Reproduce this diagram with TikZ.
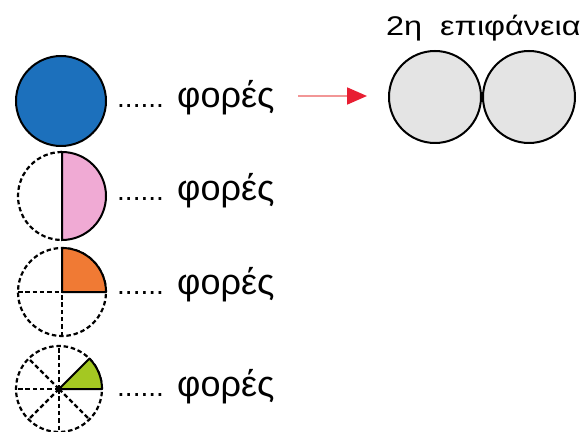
\documentclass[tikz,border=0pt]{standalone}
\usepackage{fontspec}
\setmainfont{Liberation Sans}
\newfontfamily\widefont[FakeStretch=1.2]{Liberation Sans}
\usetikzlibrary{arrows.meta}
\definecolor{cblue}{RGB}{28,112,188}
\definecolor{cpink}{RGB}{240,170,212}
\definecolor{corange}{RGB}{240,122,52}
\definecolor{cgreen}{RGB}{164,200,34}
\definecolor{cgray}{RGB}{228,228,228}
\definecolor{cpale}{RGB}{242,150,150}
\definecolor{cred}{RGB}{232,30,50}
\begin{document}
\begin{tikzpicture}[x=1pt,y=1pt,
  outl/.style={line width=2pt, black},
  dsh/.style={line width=2.2pt, black, dash pattern=on 4.5pt off 2.8pt},
  lbl/.style={font=\fontsize{36}{40}\selectfont, anchor=base west, inner sep=0pt},
  ttl/.style={font=\widefont\fontsize{27}{30}\selectfont, anchor=base west, inner sep=0pt},
  graycirc/.style={circle, draw, line width=2pt, fill=cgray, minimum size=92pt, inner sep=0pt}]
\useasboundingbox (0,0) rectangle (588,431);
\fill[white] (0,0) rectangle (588,431);
% row 1: full blue circle
\node[circle, draw, line width=2pt, fill=cblue, minimum size=90pt, inner sep=0pt] (c1) at (61,330) {};
% row 2: half
\coordinate (c2) at (62,235);
\fill[cpink] ([yshift=44pt]c2) arc[start angle=90,end angle=-90,radius=44pt] -- cycle;
\draw[dsh] ([yshift=44pt]c2) arc[start angle=90,end angle=270,radius=44pt];
\draw[outl] ([yshift=44pt]c2) arc[start angle=90,end angle=-90,radius=44pt] -- cycle;
% row 3: quarter
\coordinate (c3) at (62,139);
\draw[dsh] (c3) circle[radius=44pt];
\draw[dsh] ([xshift=-44pt]c3) -- (c3);
\draw[dsh] ([yshift=-44pt]c3) -- (c3);
\fill[corange] (c3) -- ++(44,0) arc[start angle=0,end angle=90,radius=44pt] -- cycle;
\draw[outl, line join=round] (c3) -- ++(44,0) arc[start angle=0,end angle=90,radius=44pt] -- cycle;
% row 4: eighth
\coordinate (c4) at (59,42);
\draw[dsh] (c4) circle[radius=43pt];
\foreach \a in {90,135,180,225,270,315} \draw[dsh] (c4) -- ++(\a:43pt);
\fill[cgreen] (c4) -- ++(43,0) arc[start angle=0,end angle=45,radius=43pt] -- cycle;
\draw[outl, line join=round] (c4) -- ++(43,0) arc[start angle=0,end angle=45,radius=43pt] -- cycle;
\fill[black] (c4) circle[radius=3.5pt];
% labels
\node[lbl] (t1) at (117,323) {{\fontsize{28}{30}\selectfont......} φορές};
\node[lbl] (t2) at (117,230) {{\fontsize{28}{30}\selectfont......} φορές};
\node[lbl] (t3) at (117,136) {{\fontsize{28}{30}\selectfont......} φορές};
\node[lbl] (t4) at (117,35) {{\fontsize{28}{30}\selectfont......} φορές};
% second surface
\node[ttl] (title) at (386,395) {2η\ \ επιφάνεια};
\node[graycirc] (g1) at (435,334) {};
\node[graycirc] (g2) at (529,334) {};
% arrow
\coordinate (a1) at (298,335);
\coordinate (a2) at (367,335);
\draw[line width=1.8pt, cpale, -{Triangle[length=20pt,width=17pt,color=cred]}] (a1) -- (a2);
\end{tikzpicture}
\end{document}
